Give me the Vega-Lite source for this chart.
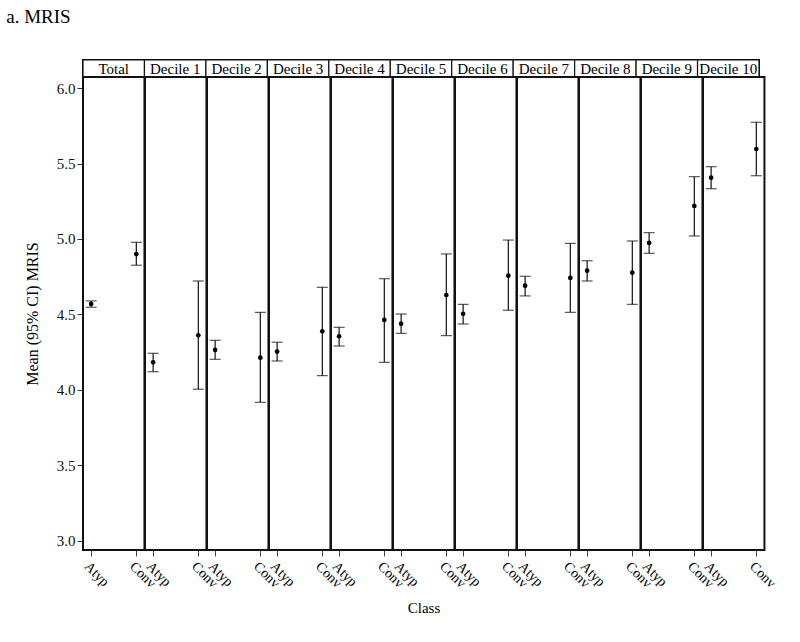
{
  "$schema": "https://vega.github.io/schema/vega-lite/v6.json",
  "title": {"text": "a. MRIS", "anchor": "start", "font": "Liberation Serif", "fontSize": 19, "fontWeight": "normal", "color": "black", "offset": 31, "dx": -18},
  "padding": {"left": 6, "top": 8, "right": 10, "bottom": 10},
  "background": "white",
  "config": {
    "font": "Liberation Serif",
    "view": {"stroke": "#111", "strokeWidth": 2},
    "concat": {"spacing": 0},
    "facet": {"spacing": 0}
  },
  "datasets": {
    "panels": [
      {"Panel": "Total"}, {"Panel": "Decile 1"}, {"Panel": "Decile 2"}, {"Panel": "Decile 3"},
      {"Panel": "Decile 4"}, {"Panel": "Decile 5"}, {"Panel": "Decile 6"}, {"Panel": "Decile 7"},
      {"Panel": "Decile 8"}, {"Panel": "Decile 9"}, {"Panel": "Decile 10"}
    ],
    "d": [
      {"Panel": "Total", "Class": "Atyp", "mean": 4.57, "lower": 4.548, "upper": 4.59},
      {"Panel": "Total", "Class": "Conv", "mean": 4.90, "lower": 4.826, "upper": 4.978},
      {"Panel": "Decile 1", "Class": "Atyp", "mean": 4.183, "lower": 4.121, "upper": 4.243},
      {"Panel": "Decile 1", "Class": "Conv", "mean": 4.362, "lower": 4.005, "upper": 4.722},
      {"Panel": "Decile 2", "Class": "Atyp", "mean": 4.265, "lower": 4.203, "upper": 4.329},
      {"Panel": "Decile 2", "Class": "Conv", "mean": 4.214, "lower": 3.918, "upper": 4.514},
      {"Panel": "Decile 3", "Class": "Atyp", "mean": 4.254, "lower": 4.192, "upper": 4.316},
      {"Panel": "Decile 3", "Class": "Conv", "mean": 4.389, "lower": 4.095, "upper": 4.68},
      {"Panel": "Decile 4", "Class": "Atyp", "mean": 4.356, "lower": 4.291, "upper": 4.415},
      {"Panel": "Decile 4", "Class": "Conv", "mean": 4.464, "lower": 4.183, "upper": 4.737},
      {"Panel": "Decile 5", "Class": "Atyp", "mean": 4.439, "lower": 4.375, "upper": 4.503},
      {"Panel": "Decile 5", "Class": "Conv", "mean": 4.629, "lower": 4.36, "upper": 4.901},
      {"Panel": "Decile 6", "Class": "Atyp", "mean": 4.505, "lower": 4.437, "upper": 4.567},
      {"Panel": "Decile 6", "Class": "Conv", "mean": 4.757, "lower": 4.528, "upper": 4.993},
      {"Panel": "Decile 7", "Class": "Atyp", "mean": 4.691, "lower": 4.623, "upper": 4.753},
      {"Panel": "Decile 7", "Class": "Conv", "mean": 4.742, "lower": 4.514, "upper": 4.971},
      {"Panel": "Decile 8", "Class": "Atyp", "mean": 4.79, "lower": 4.722, "upper": 4.856},
      {"Panel": "Decile 8", "Class": "Conv", "mean": 4.777, "lower": 4.567, "upper": 4.987},
      {"Panel": "Decile 9", "Class": "Atyp", "mean": 4.974, "lower": 4.905, "upper": 5.042},
      {"Panel": "Decile 9", "Class": "Conv", "mean": 5.219, "lower": 5.02, "upper": 5.413},
      {"Panel": "Decile 10", "Class": "Atyp", "mean": 5.406, "lower": 5.333, "upper": 5.479},
      {"Panel": "Decile 10", "Class": "Conv", "mean": 5.596, "lower": 5.419, "upper": 5.773}
    ]
  },
  "bounds": "flush",
  "vconcat": [
    {
      "width": 676,
      "height": 17,
      "data": {"name": "panels"},
      "layer": [
        {
          "mark": {"type": "rect", "fill": "white", "stroke": "#111", "strokeWidth": 1.2},
          "encoding": {
            "x": {"field": "Panel", "type": "nominal", "sort": ["Total", "Decile 1", "Decile 2", "Decile 3", "Decile 4", "Decile 5", "Decile 6", "Decile 7", "Decile 8", "Decile 9", "Decile 10"], "scale": {"paddingInner": 0, "paddingOuter": 0}, "axis": null}
          }
        },
        {
          "mark": {"type": "text", "fontSize": 15, "font": "Liberation Serif", "color": "black"},
          "encoding": {
            "x": {"field": "Panel", "type": "nominal", "sort": ["Total", "Decile 1", "Decile 2", "Decile 3", "Decile 4", "Decile 5", "Decile 6", "Decile 7", "Decile 8", "Decile 9", "Decile 10"], "axis": null},
            "text": {"field": "Panel"}
          }
        }
      ]
    },
    {
      "data": {"name": "d"},
      "bounds": "flush",
      "facet": {
        "column": {
          "field": "Panel", "type": "nominal",
          "sort": ["Total", "Decile 1", "Decile 2", "Decile 3", "Decile 4", "Decile 5", "Decile 6", "Decile 7", "Decile 8", "Decile 9", "Decile 10"],
          "header": {"labels": false, "title": "Class", "titleOrient": "bottom", "titleFont": "Liberation Serif", "titleFontSize": 15, "titleFontWeight": "normal", "titleColor": "black", "titlePadding": 0}
        }
      },
      "spacing": 0,
      "spec": {
        "width": 61.45,
        "height": 473,
        "layer": [
          {
            "mark": {"type": "errorbar", "ticks": {"size": 11, "color": "#111"}, "color": "#111", "thickness": 1.2},
            "encoding": {
              "x": {"field": "Class", "type": "nominal", "scale": {"type": "point", "padding": 0.18},
                "axis": {"title": null, "labelAngle": 45, "labelFontSize": 14, "labelFont": "Liberation Serif", "labelColor": "black", "tickColor": "#444", "tickSize": 6, "domainColor": "#555", "labelPadding": 3, "grid": false}},
              "y": {"field": "lower", "type": "quantitative", "scale": {"domain": [2.94, 6.073], "nice": false, "zero": false},
                "axis": {"title": "Mean (95% CI) MRIS", "values": [3, 3.5, 4, 4.5, 5, 5.5, 6], "format": ".1f", "labelFontSize": 15, "labelFont": "Liberation Serif", "labelColor": "#111", "titleFont": "Liberation Serif", "titleFontSize": 16, "titleFontWeight": "normal", "titleColor": "black", "grid": false, "domain": false, "tickColor": "#333", "tickSize": 6, "titlePadding": 16}},
              "y2": {"field": "upper"}
            }
          },
          {
            "mark": {"type": "point", "filled": true, "color": "black", "size": 22, "opacity": 1},
            "encoding": {
              "x": {"field": "Class", "type": "nominal"},
              "y": {"field": "mean", "type": "quantitative"}
            }
          }
        ]
      }
    }
  ]
}
